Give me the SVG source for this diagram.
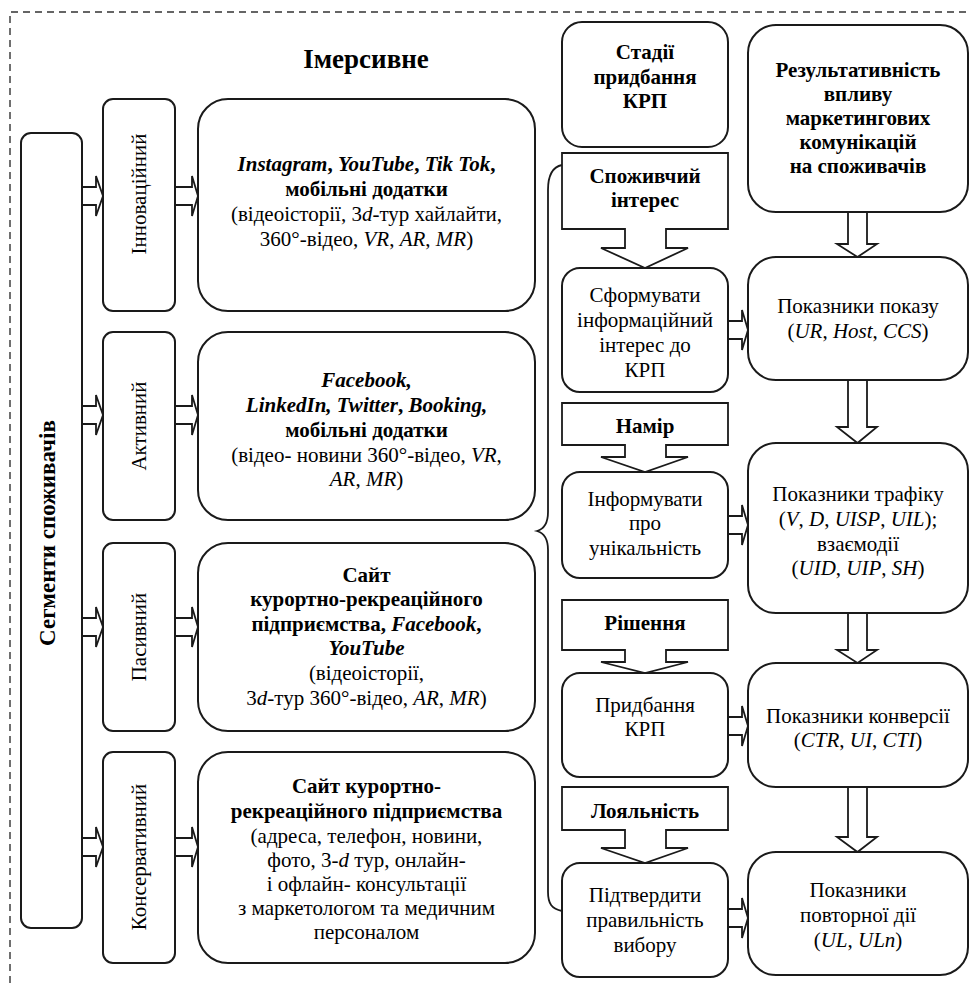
<svg xmlns="http://www.w3.org/2000/svg" width="970" height="983" viewBox="0 0 970 983">
<style>
.box{fill:#fff;stroke:#1a1a1a;stroke-width:2}
.arr{fill:#fff;stroke:#1a1a1a;stroke-width:1.8;stroke-linejoin:miter}
.t{font-family:"Liberation Serif","Times New Roman",serif;font-size:21px;fill:#000;text-anchor:middle}
.b{font-weight:bold}
.i{font-style:italic}
.bi{font-weight:bold;font-style:italic}
</style>
<rect width="970" height="983" fill="#fff"/>
<path d="M10 983 V12 H970" fill="none" stroke="#333" stroke-width="1.4" stroke-dasharray="7 5"/>
<text class="t b" x="366" y="68" style="font-size:27px">Імерсивне</text>

<g id="connectors">
  <path class="arr" d="M82 187 H96 V176 L103 196 L96 216 V205 H82 Z"/>
  <path class="arr" d="M175 187 H192 V176 L198 196 L192 216 V205 H175 Z"/>
  <path class="arr" d="M82 406 H96 V395 L103 415 L96 435 V424 H82 Z"/>
  <path class="arr" d="M175 406 H192 V395 L198 415 L192 435 V424 H175 Z"/>
  <path class="arr" d="M82 618 H96 V607 L103 627 L96 647 V636 H82 Z"/>
  <path class="arr" d="M175 618 H192 V607 L198 627 L192 647 V636 H175 Z"/>
  <path class="arr" d="M82 838 H96 V827 L103 847 L96 867 V856 H82 Z"/>
  <path class="arr" d="M175 838 H192 V827 L198 847 L192 867 V856 H175 Z"/>
  <path d="M562 165 C552 167 548 175 548 190 L548 512 C548 524 544 529 537 531 C544 533 548 538 548 550 L548 892 C548 904 552 909 562 911" fill="none" stroke="#1a1a1a" stroke-width="1.8"/>
  <path class="arr" d="M728 321 H742 V310 L748 330 L742 350 V339 H728 Z"/>
  <path class="arr" d="M728 516 H742 V505 L748 525 L742 545 V534 H728 Z"/>
  <path class="arr" d="M728 717 H742 V706 L748 726 L742 746 V735 H728 Z"/>
  <path class="arr" d="M728 909 H742 V898 L748 918 L742 938 V927 H728 Z"/>
  <path class="arr" d="M848 212 V244 H837 L857.5 257 L877 244 H867 V212"/>
  <path class="arr" d="M848 380 V427 H837 L857.5 443 L877 427 H867 V380"/>
  <path class="arr" d="M848 613 V650 H837 L857.5 663 L877 650 H867 V613"/>
  <path class="arr" d="M848 787 V837 H837 L857.5 852 L877 837 H867 V787"/>
</g>

<g id="segments">
  <rect class="box" x="21" y="133" width="61" height="795" rx="10"/>
  <text class="t b" transform="translate(55 533) rotate(-90)" style="font-size:23px">Сегменти споживачів</text>
</g>

<g id="innovative">
  <rect class="box" x="103" y="99" width="72" height="212" rx="10"/>
  <text class="t" transform="translate(146 194) rotate(-90)">Інноваційний</text>
</g>
<g id="active">
  <rect class="box" x="103" y="332" width="72" height="188" rx="10"/>
  <text class="t" transform="translate(146 426) rotate(-90)">Активний</text>
</g>
<g id="passive">
  <rect class="box" x="103" y="543" width="72" height="188" rx="10"/>
  <text class="t" transform="translate(146 637) rotate(-90)">Пасивний</text>
</g>
<g id="conservative">
  <rect class="box" x="103" y="752" width="72" height="211" rx="10"/>
  <text class="t" transform="translate(146 857) rotate(-90)">Консервативний</text>
</g>

<g id="channels-innovative">
  <rect class="box" x="198" y="99" width="337" height="212" rx="30"/>
  <text class="t b" x="366.5" y="171"><tspan class="i">Instagram</tspan>, <tspan class="i">YouTube</tspan>, <tspan class="i">Tik Tok</tspan>,</text>
  <text class="t b" x="366.5" y="196">мобільні додатки</text>
  <text class="t" x="366.5" y="221">(відеоісторії, 3<tspan class="i">d</tspan>-тур хайлайти,</text>
  <text class="t" x="366.5" y="246">360°-відео, <tspan class="i">VR</tspan>, <tspan class="i">AR</tspan>, <tspan class="i">MR</tspan>)</text>
</g>
<g id="channels-active">
  <rect class="box" x="198" y="332" width="337" height="188" rx="30"/>
  <text class="t bi" x="366.5" y="387">Facebook,</text>
  <text class="t b" x="366.5" y="412"><tspan class="i">LinkedIn, Twitter</tspan>, <tspan class="i">Booking,</tspan></text>
  <text class="t b" x="366.5" y="437">мобільні додатки</text>
  <text class="t" x="366.5" y="462">(відео- новини 360°-відео, <tspan class="i">VR</tspan>,</text>
  <text class="t" x="366.5" y="486"><tspan class="i">AR</tspan>, <tspan class="i">MR</tspan>)</text>
</g>
<g id="channels-passive">
  <rect class="box" x="198" y="543" width="337" height="188" rx="30"/>
  <text class="t b" x="366.5" y="582">Сайт</text>
  <text class="t b" x="366.5" y="606">курортно-рекреаційного</text>
  <text class="t b" x="366.5" y="631">підприємства, <tspan class="i">Facebook</tspan>,</text>
  <text class="t bi" x="366.5" y="655">YouTube</text>
  <text class="t" x="366.5" y="680">(відеоісторії,</text>
  <text class="t" x="366.5" y="705">3<tspan class="i">d</tspan>-тур 360°-відео, <tspan class="i">AR</tspan>, <tspan class="i">MR</tspan>)</text>
</g>
<g id="channels-conservative">
  <rect class="box" x="198" y="752" width="337" height="211" rx="30"/>
  <text class="t b" x="366.5" y="793">Сайт курортно-</text>
  <text class="t b" x="366.5" y="818">рекреаційного підприємства</text>
  <text class="t" x="366.5" y="843">(адреса, телефон, новини,</text>
  <text class="t" x="366.5" y="867">фото, 3-<tspan class="i">d</tspan> тур, онлайн-</text>
  <text class="t" x="366.5" y="891">і офлайн- консультації</text>
  <text class="t" x="366.5" y="915">з маркетологом та медичним</text>
  <text class="t" x="366.5" y="939">персоналом</text>
</g>

<g id="stages">
  <rect class="box" x="562" y="22" width="166" height="125" rx="20"/>
  <text class="t b" x="645" y="59">Стадії</text>
  <text class="t b" x="645" y="84">придбання</text>
  <text class="t b" x="645" y="108">КРП</text>
</g>
<g id="stage-interest">
  <path class="arr" d="M562 153 H728 V229 H666 V248 H688 L645 268 L601 248 H625 V229 H562 Z"/>
  <text class="t b" x="645" y="183">Споживчий</text>
  <text class="t b" x="645" y="207">інтерес</text>
</g>
<g id="form-interest">
  <rect class="box" x="562" y="268" width="166" height="124" rx="18"/>
  <text class="t" x="645" y="302">Сформувати</text>
  <text class="t" x="645" y="327">інформаційний</text>
  <text class="t" x="645" y="352">інтерес до</text>
  <text class="t" x="645" y="377">КРП</text>
</g>
<g id="stage-intent">
  <path class="arr" d="M562 403 H728 V445 H666 V457 H688 L645 472 L601 457 H625 V445 H562 Z"/>
  <text class="t b" x="645" y="433">Намір</text>
</g>
<g id="inform">
  <rect class="box" x="562" y="472" width="166" height="106" rx="18"/>
  <text class="t" x="645" y="506">Інформувати</text>
  <text class="t" x="645" y="530">про</text>
  <text class="t" x="645" y="555">унікальність</text>
</g>
<g id="stage-decision">
  <path class="arr" d="M562 600 H728 V650 H666 V662 H688 L645 673 L601 662 H625 V650 H562 Z"/>
  <text class="t b" x="645" y="630">Рішення</text>
</g>
<g id="purchase">
  <rect class="box" x="562" y="673" width="166" height="104" rx="18"/>
  <text class="t" x="645" y="712">Придбання</text>
  <text class="t" x="645" y="736">КРП</text>
</g>
<g id="stage-loyalty">
  <path class="arr" d="M562 787 H728 V830 H666 V848 H688 L645 863 L601 848 H625 V830 H562 Z"/>
  <text class="t b" x="645" y="818">Лояльність</text>
</g>
<g id="confirm">
  <rect class="box" x="562" y="863" width="166" height="114" rx="18"/>
  <text class="t" x="645" y="902">Підтвердити</text>
  <text class="t" x="645" y="927">правильність</text>
  <text class="t" x="645" y="952">вибору</text>
</g>

<g id="effectiveness">
  <rect class="box" x="748" y="25" width="220" height="187" rx="28"/>
  <text class="t b" x="858" y="77">Результативність</text>
  <text class="t b" x="858" y="101">впливу</text>
  <text class="t b" x="858" y="125">маркетингових</text>
  <text class="t b" x="858" y="149">комунікацій</text>
  <text class="t b" x="858" y="173">на споживачів</text>
</g>
<g id="impressions">
  <rect class="box" x="748" y="257" width="220" height="123" rx="28"/>
  <text class="t" x="858" y="313">Показники показу</text>
  <text class="t" x="858" y="338">(<tspan class="i">UR</tspan>, <tspan class="i">Host</tspan>, <tspan class="i">CCS</tspan>)</text>
</g>
<g id="traffic">
  <rect class="box" x="748" y="443" width="220" height="170" rx="28"/>
  <text class="t" x="858" y="501">Показники трафіку</text>
  <text class="t" x="858" y="526">(<tspan class="i">V</tspan>, <tspan class="i">D</tspan>, <tspan class="i">UISP</tspan>, <tspan class="i">UIL</tspan>);</text>
  <text class="t" x="858" y="551">взаємодії</text>
  <text class="t" x="858" y="575">(<tspan class="i">UID</tspan>, <tspan class="i">UIP</tspan>, <tspan class="i">SH</tspan>)</text>
</g>
<g id="conversion">
  <rect class="box" x="748" y="663" width="220" height="124" rx="28"/>
  <text class="t" x="858" y="723">Показники конверсії</text>
  <text class="t" x="858" y="747">(<tspan class="i">CTR</tspan>, <tspan class="i">UI</tspan>, <tspan class="i">CTI</tspan>)</text>
</g>
<g id="repeat">
  <rect class="box" x="748" y="852" width="220" height="123" rx="28"/>
  <text class="t" x="858" y="897">Показники</text>
  <text class="t" x="858" y="922">повторної дії</text>
  <text class="t" x="858" y="947">(<tspan class="i">UL</tspan>, <tspan class="i">ULn</tspan>)</text>
</g>
</svg>
